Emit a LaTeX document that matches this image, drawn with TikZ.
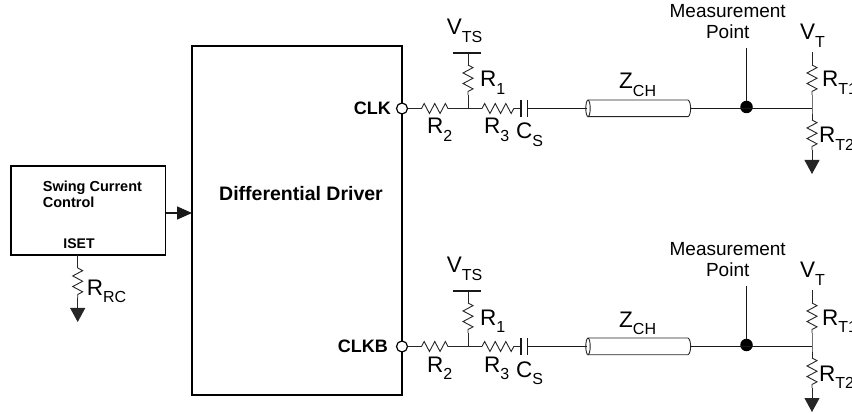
\documentclass[tikz,border=0pt]{standalone}
\usepackage{fontspec}
\setmainfont{Liberation Sans}
\usetikzlibrary{arrows.meta,decorations.pathmorphing}
\newcommand{\lab}[2]{{\fontsize{22.5}{25}\selectfont #1\raisebox{-7.5pt}{\fontsize{16}{18}\selectfont #2}}}
\tikzset{
  wire/.style={line width=0.9pt,draw=black!85},
  thick wire/.style={line width=1.5pt,draw=black!90},
  resistor/.style={wire,decorate,decoration={zigzag,segment length=10.6pt,amplitude=5pt}},
  ground/.style={wire,-{Triangle[width=15pt,length=14pt]}},
  block/.style={draw,line width=1.4pt,inner sep=0pt},
  port/.style={circle,draw,fill=white,line width=1.2pt,inner sep=0pt,minimum size=11pt},
  dot/.style={circle,fill=black,inner sep=0pt,minimum size=12.5pt},
  text lab/.style={anchor=base west,inner sep=0pt},
  bold lab/.style={inner sep=0pt,font=\bfseries}
}
\begin{document}
\begin{tikzpicture}[x=1pt,y=-1pt]
  \useasboundingbox (0,0) rectangle (852,414);
  \node[block,minimum width=210pt,minimum height=349pt] (driver) at (297,220.5) {};
  \node[block,minimum width=154.7pt,minimum height=89pt] (swing) at (88.3,210.5) {};
  \node[bold lab,anchor=base] (drivertext) at (301,201) {\fontsize{19.5}{22}\selectfont Differential Driver};
  \node[inner sep=0pt,anchor=base west,align=left,font=\fontsize{14.5}{16.5}\selectfont\bfseries] (swingtext) at (42.7,208) {Swing Current\\Control};
  \node[bold lab,anchor=base] (iset) at (79,248.7) {\fontsize{14}{16}\selectfont ISET};
  \coordinate (swingout) at (165.7,213);
  \coordinate (driverin) at (192,213);
  \draw[thick wire,-{Triangle[width=13pt,length=15pt]}] (swingout) -- (driverin);
  \coordinate (rca) at (77.7,268);
  \coordinate (rcb) at (77.7,298);
  \coordinate (rctip) at (77.7,322);
  \draw[wire] (77.7,255) -- (rca);
  \draw[resistor] (rca) -- (rcb);
  \draw[ground] (rcb) -- (rctip);
  \node[text lab] (rrc) at (86.7,295) {\lab{R}{RC}};
  \foreach \row/\dy/\pin/\pinx in {a/0/CLK/391,b/238/CLKB/388}{
    \begin{scope}[shift={(0,\dy)}]
      \node[bold lab,anchor=east] (pin\row) at (\pinx,108.5) {\fontsize{18}{20}\selectfont \pin};
      \coordinate (tee\row) at (468,108.5);
      \coordinate (rtwoa\row) at (421.5,108.5);
      \coordinate (rtwob\row) at (453,108.5);
      \coordinate (rthreea\row) at (482,108.5);
      \coordinate (rthreeb\row) at (515,108.5);
      \coordinate (capa\row) at (521,108.5);
      \coordinate (capb\row) at (527.7,108.5);
      \coordinate (vts\row) at (468,53);
      \coordinate (ronea\row) at (468,65);
      \coordinate (roneb\row) at (468,95);
      \coordinate (cablea\row) at (587,108.5);
      \coordinate (cableb\row) at (690.7,108.5);
      \coordinate (probe\row) at (746.5,48);
      \coordinate (term\row) at (812,108.5);
      \coordinate (vt\row) at (812,52);
      \coordinate (rtonea\row) at (812,65);
      \coordinate (rtoneb\row) at (812,95);
      \coordinate (rttwoa\row) at (812,120);
      \coordinate (rttwob\row) at (812,150);
      \coordinate (rttip\row) at (812,174);
      \node[port] (out\row) at (402,108.5) {};
      \node[dot] (meas\row) at (746.5,107) {};
      % driver output to cap
      \draw[wire] (out\row) -- (rtwoa\row);
      \draw[resistor] (rtwoa\row) -- (rtwob\row);
      \draw[wire] (rtwob\row) -- (tee\row) -- (rthreea\row);
      \draw[resistor] (rthreea\row) -- (rthreeb\row);
      \draw[wire] (rthreeb\row) -- (capa\row);
      \draw[wire] (vts\row) -- (ronea\row);
      \draw[resistor] (ronea\row) -- (roneb\row);
      \draw[wire] (roneb\row) -- (tee\row);
      \draw[thick wire] (452.7,53) -- (480.7,53);
      \draw[thick wire] (521,100) -- (521,116.7);
      \draw[thick wire] (527.7,100) -- (527.7,116.7);
      \draw[thick wire] (capb\row) -- (cablea\row);
      % cable
      \draw[wire] (588,100) -- (688,100) .. controls (691.5,102) and (691.5,115) .. (688,116.7) -- (588,116.7);
      \draw[wire] (588,108.4) ellipse [x radius=2.2,y radius=8.3];
      % line to termination
      \draw[thick wire] (cableb\row) -- (term\row);
      \draw[thick wire] (probe\row) -- (meas\row);
      \draw[wire] (vt\row) -- (rtonea\row);
      \draw[resistor] (rtonea\row) -- (rtoneb\row);
      \draw[wire] (rtoneb\row) -- (term\row) -- (rttwoa\row);
      \draw[resistor] (rttwoa\row) -- (rttwob\row);
      \draw[ground] (rttwob\row) -- (rttip\row);
      \node[text lab] (vtslab\row) at (446.7,35) {\lab{V}{TS}};
      \node[text lab] (ronelab\row) at (480,87) {\lab{R}{1}};
      \node[text lab] (rtwolab\row) at (427,134) {\lab{R}{2}};
      \node[text lab] (rthreelab\row) at (484,134) {\lab{R}{3}};
      \node[text lab] (cslab\row) at (516,139) {\lab{C}{S}};
      \node[text lab] (zlab\row) at (619,89) {\lab{Z}{CH}};
      \node[inner sep=0pt,align=center,anchor=base,font=\fontsize{19}{21.7}\selectfont] (measlab\row) at (727.7,39) {Measurement\\Point};
      \node[text lab] (vtlab\row) at (800,40) {\lab{V}{T}};
      \node[text lab] (rtonelab\row) at (822,87) {\lab{R}{T1}};
      \node[text lab] (rttwolab\row) at (819,143) {\lab{R}{T2}};
    \end{scope}
  }
\end{tikzpicture}
\end{document}
